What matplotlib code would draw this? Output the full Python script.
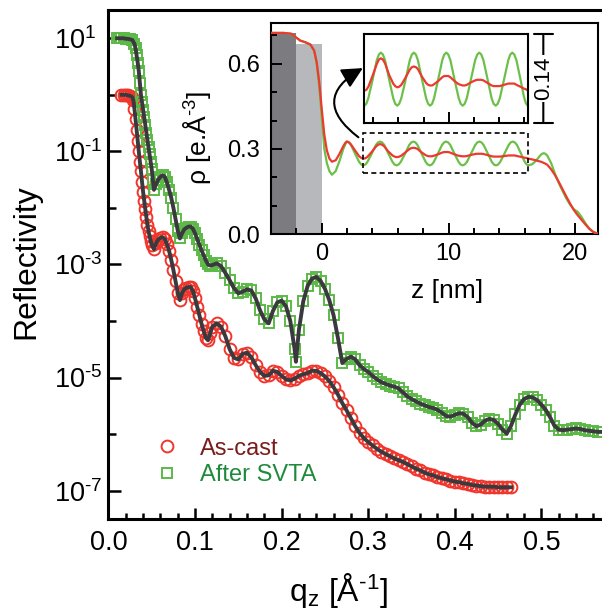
import numpy as np
import matplotlib
matplotlib.use("Agg")
import matplotlib.pyplot as plt
from matplotlib.patches import Rectangle
from matplotlib.ticker import FixedLocator, FuncFormatter, NullFormatter

plt.rcParams["font.family"] = ["Liberation Sans", "DejaVu Sans"]
plt.rcParams["mathtext.fontset"] = "custom"
plt.rcParams["mathtext.rm"] = "Liberation Sans"
plt.rcParams["mathtext.it"] = "Liberation Sans:italic"
plt.rcParams["mathtext.bf"] = "Liberation Sans:bold"

# --- reflectivity data, log10(R) ---
q_ascast = [
    0.0150, 0.0175, 0.0200, 0.0225, 0.0250, 0.0275, 0.02875, 0.0300, 0.03125, 0.0325,
    0.03375, 0.0350, 0.03625, 0.0375, 0.03875, 0.0400, 0.04125, 0.0425, 0.04375, 0.0450,
    0.04625, 0.0475, 0.04875, 0.0500, 0.0525, 0.0550, 0.0575, 0.0600, 0.0625,
    0.0650, 0.0675, 0.0700, 0.0725, 0.0750, 0.0775, 0.0800, 0.0825, 0.0850, 0.0875,
    0.0900, 0.0925, 0.0950, 0.0975, 0.1000, 0.1025, 0.1050, 0.1075, 0.1100, 0.1125,
    0.1150, 0.1175,
    0.120, 0.125, 0.130, 0.135, 0.140, 0.145, 0.150, 0.155, 0.160, 0.165,
    0.170, 0.175, 0.180, 0.185, 0.190, 0.195, 0.200, 0.205, 0.210, 0.215,
    0.220, 0.225, 0.230, 0.235, 0.240, 0.245, 0.250, 0.255, 0.260, 0.265,
    0.270, 0.275, 0.280, 0.285, 0.290, 0.295, 0.300, 0.305, 0.310, 0.315,
    0.320, 0.325, 0.330, 0.335, 0.340, 0.345, 0.350, 0.355, 0.360, 0.365,
    0.370, 0.375, 0.380, 0.385, 0.390, 0.395, 0.400, 0.405, 0.410, 0.415,
    0.420, 0.425, 0.430, 0.435, 0.440, 0.445, 0.450, 0.455, 0.460, 0.465,
]
logr_ascast = [
    0.00, 0.00, 0.00, -0.01, -0.02, -0.04, -0.10, -0.25, -0.43, -0.62,
    -0.81, -1.00, -1.18, -1.35, -1.54, -1.72, -1.87, -2.02, -2.16, -2.30,
    -2.41, -2.50, -2.58, -2.65, -2.73, -2.62, -2.56, -2.53, -2.52,
    -2.55, -2.64, -2.76, -2.92, -3.10, -3.30, -3.50, -3.63, -3.50, -3.44,
    -3.41, -3.40, -3.40, -3.47, -3.60, -3.75, -3.90, -4.05, -4.18, -4.30,
    -4.34, -4.22,
    -4.10, -4.04, -4.10, -4.27, -4.50, -4.65, -4.68, -4.58, -4.56, -4.64,
    -4.78, -4.90, -4.97, -4.96, -4.88, -4.90, -4.97, -5.03, -5.05, -5.02,
    -4.97, -4.94, -4.92, -4.88, -4.88, -4.92, -4.98, -5.06, -5.17, -5.30,
    -5.45, -5.58, -5.72, -5.86, -5.98, -6.07, -6.14, -6.20, -6.26, -6.31,
    -6.35, -6.39, -6.43, -6.46, -6.49, -6.53, -6.57, -6.61, -6.64, -6.68,
    -6.71, -6.73, -6.76, -6.78, -6.80, -6.82, -6.84, -6.85, -6.87, -6.88,
    -6.90, -6.91, -6.92, -6.93, -6.93, -6.93, -6.94, -6.94, -6.94, -6.94,
]

q_svta = [
    0.0100, 0.0125, 0.0150, 0.0175, 0.0200, 0.0225, 0.0250, 0.0275, 0.0300, 0.03125,
    0.0325, 0.03375, 0.0350, 0.03625, 0.0375, 0.03875, 0.0400, 0.04125, 0.0425, 0.04375,
    0.0450, 0.04625, 0.0475, 0.04875, 0.0500, 0.05125, 0.0525, 0.0550, 0.0575,
    0.0600, 0.0625, 0.0650, 0.0675, 0.0700, 0.0725, 0.0750, 0.0775, 0.0800, 0.0825,
    0.0850, 0.0875, 0.0900, 0.0925, 0.0950, 0.0975, 0.1000, 0.1025, 0.1050, 0.1075,
    0.1100, 0.1125, 0.1150, 0.1175,
    0.120, 0.125, 0.130, 0.135, 0.140, 0.145, 0.150, 0.155, 0.160, 0.165,
    0.170, 0.175, 0.180, 0.185, 0.190, 0.195, 0.200, 0.205, 0.210, 0.215,
    0.2165, 0.220, 0.225, 0.230, 0.235, 0.240, 0.245, 0.250, 0.255, 0.260,
    0.265, 0.270, 0.275, 0.280, 0.285, 0.290, 0.295, 0.300, 0.305, 0.310,
    0.315, 0.320, 0.325, 0.330, 0.335, 0.340, 0.345, 0.350, 0.355, 0.360,
    0.365, 0.370, 0.375, 0.380, 0.385, 0.390, 0.395, 0.400, 0.405, 0.410,
    0.415, 0.420, 0.425, 0.430, 0.435, 0.440, 0.445, 0.450, 0.455, 0.460,
    0.465, 0.470, 0.475, 0.480, 0.485, 0.490, 0.495, 0.500, 0.505, 0.510,
    0.515, 0.520, 0.525, 0.530, 0.535, 0.540, 0.545, 0.550, 0.555, 0.560,
    0.565, 0.570,
]
logr_svta = [
    1.00, 1.00, 1.00, 1.00, 0.99, 0.99, 0.98, 0.97, 0.90, 0.82,
    0.70, 0.57, 0.42, 0.21, 0.00, -0.13, -0.26, -0.40, -0.53, -0.67,
    -0.80, -0.93, -1.05, -1.18, -1.32, -1.50, -1.68, -1.58, -1.50,
    -1.45, -1.42, -1.45, -1.55, -1.68, -1.82, -2.00, -2.20, -2.40, -2.54,
    -2.45, -2.38, -2.35, -2.33, -2.33, -2.37, -2.45, -2.55, -2.65, -2.75,
    -2.84, -2.93, -3.00, -3.02,
    -3.01, -2.98, -3.03, -3.15, -3.28, -3.42, -3.51, -3.48, -3.44, -3.46,
    -3.60, -3.81, -3.97, -4.04, -3.82, -3.67, -3.64, -3.74, -4.00, -4.50,
    -4.72, -4.15, -3.65, -3.38, -3.25, -3.22, -3.29, -3.43, -3.63, -3.90,
    -4.30, -4.74, -4.67, -4.63, -4.68, -4.78, -4.85, -4.90, -4.97, -5.03,
    -5.08, -5.11, -5.14, -5.16, -5.19, -5.26, -5.33, -5.38, -5.42, -5.46,
    -5.49, -5.52, -5.54, -5.57, -5.62, -5.68, -5.69, -5.66, -5.63, -5.64,
    -5.70, -5.80, -5.86, -5.83, -5.76, -5.73, -5.75, -5.82, -5.92, -5.99,
    -5.85, -5.65, -5.48, -5.38, -5.34, -5.35, -5.40, -5.48, -5.57, -5.70,
    -5.85, -5.92, -5.93, -5.92, -5.91, -5.90, -5.91, -5.93, -5.94, -5.95,
    -5.96, -5.96,
]

# --- electron density profiles (inset) ---
z_nm = [
    -4.0, -3.0, -2.4, -2.0, -1.7, -1.3, -0.9, -0.6, -0.4, -0.2,
    0.0, 0.2, 0.4, 0.6, 0.8, 1.1, 1.4, 1.7, 1.85,
    1.97, 2.13, 2.3, 2.62, 2.95, 3.12,
    3.28, 3.44, 3.6, 3.95, 4.27, 4.44,
    4.6, 4.76, 4.93, 5.25, 5.58, 5.74,
    5.9, 6.06, 6.23, 6.58, 6.9, 7.07,
    7.23, 7.39, 7.55, 7.87, 8.2, 8.36,
    8.52, 8.68, 8.84, 9.17, 9.49, 9.65,
    9.81, 9.97, 10.14, 10.46, 10.8, 10.96,
    11.12, 11.28, 11.45, 11.78, 12.11, 12.28,
    12.44, 12.6, 12.77, 13.1, 13.42, 13.58,
    13.75, 13.91, 14.08, 14.42, 14.75, 14.91,
    15.07, 15.23, 15.4, 15.72, 16.0, 16.15,
    16.3, 16.6, 16.9, 17.2, 17.35, 17.5, 17.65, 17.8, 18.1, 18.4,
    18.7, 19.0, 19.3, 19.6, 19.9, 20.2, 20.5, 20.8, 21.1, 21.4,
    21.8,
]
rho_ascast = [
    0.709, 0.709, 0.706, 0.692, 0.682, 0.676, 0.668, 0.647, 0.605, 0.535,
    0.440, 0.350, 0.295, 0.266, 0.255, 0.260, 0.283, 0.310, 0.321,
    0.326, 0.324, 0.316, 0.295, 0.274, 0.268,
    0.266, 0.267, 0.272, 0.290, 0.308, 0.315,
    0.317, 0.315, 0.309, 0.291, 0.277, 0.273,
    0.271, 0.272, 0.275, 0.287, 0.299, 0.303,
    0.304, 0.303, 0.300, 0.288, 0.278, 0.275,
    0.274, 0.274, 0.276, 0.281, 0.287, 0.289,
    0.289, 0.289, 0.287, 0.281, 0.276, 0.275,
    0.274, 0.274, 0.275, 0.279, 0.282, 0.283,
    0.283, 0.283, 0.282, 0.278, 0.274, 0.273,
    0.273, 0.273, 0.273, 0.275, 0.277, 0.277,
    0.277, 0.277, 0.275, 0.272, 0.269, 0.268,
    0.266, 0.263, 0.260, 0.256, 0.254, 0.251, 0.248, 0.244, 0.228, 0.208,
    0.184, 0.158, 0.132, 0.107, 0.084, 0.066, 0.050, 0.034, 0.019, 0.008,
    0.000,
]
rho_svta = [
    0.709, 0.709, 0.706, 0.692, 0.682, 0.676, 0.668, 0.645, 0.600, 0.520,
    0.410, 0.300, 0.250, 0.222, 0.209, 0.222, 0.258, 0.300, 0.316,
    0.326, 0.323, 0.314, 0.284, 0.254, 0.245,
    0.242, 0.245, 0.254, 0.284, 0.314, 0.323,
    0.326, 0.323, 0.314, 0.284, 0.254, 0.245,
    0.242, 0.245, 0.254, 0.284, 0.314, 0.323,
    0.326, 0.323, 0.314, 0.284, 0.254, 0.245,
    0.242, 0.245, 0.254, 0.284, 0.314, 0.323,
    0.326, 0.323, 0.314, 0.284, 0.254, 0.245,
    0.242, 0.245, 0.254, 0.284, 0.314, 0.323,
    0.326, 0.323, 0.314, 0.284, 0.254, 0.245,
    0.242, 0.245, 0.254, 0.284, 0.314, 0.323,
    0.326, 0.323, 0.314, 0.284, 0.256, 0.246,
    0.242, 0.246, 0.258, 0.275, 0.282, 0.285, 0.283, 0.276, 0.250, 0.213,
    0.180, 0.152, 0.125, 0.103, 0.087, 0.078, 0.060, 0.038, 0.020, 0.008,
    0.000,
]

# substrate layers (Si / SiOx) drawn as shaded blocks
layer_edges = [-4.1, -2.05, 0.0]
layer_rho = [0.709, 0.670]

# region that is magnified in the small panel
zoom_z = (3.28, 16.3)
zoom_rho = (0.215, 0.355)

RED = "#f0362c"
GREEN = "#5cb947"
FIT = "#3a3a3e"
HYPHEN = "\u2010"

fig = plt.figure(figsize=(6.02, 6.12), dpi=100)

# --- main reflectivity panel ---
ax = fig.add_axes([0.1802, 0.152, 0.8198, 0.8317])
h_red, = ax.plot(q_ascast, 10 ** np.array(logr_ascast), ls="none", marker="o",
                 ms=8.5, mfc="none", mec=RED, mew=1.4, label="As-cast", zorder=2)
h_green, = ax.plot(q_svta, 10 ** np.array(logr_svta), ls="none", marker="s",
                   ms=7.4, mfc="none", mec=GREEN, mew=1.4, label="After SVTA", zorder=2)
ax.plot(q_ascast, 10 ** np.array(logr_ascast), color=FIT, lw=2.8, zorder=3)
ax.plot(q_svta, 10 ** np.array(logr_svta), color=FIT, lw=2.8, zorder=3)


def decade_label(v, pos):
    exp = int(round(np.log10(v)))
    sign = HYPHEN if exp < 0 else ""
    return r"10$^{\mathregular{%s%d}}$" % (sign, abs(exp))


ax.set_yscale("log")
ax.set_xlim(0, 0.57)
ax.set_ylim(10 ** -7.5, 10 ** 1.5)
ax.yaxis.set_major_locator(FixedLocator([1e1, 1e-1, 1e-3, 1e-5, 1e-7]))
ax.yaxis.set_minor_locator(FixedLocator([1e0, 1e-2, 1e-4, 1e-6]))
ax.yaxis.set_minor_formatter(NullFormatter())
ax.yaxis.set_major_formatter(FuncFormatter(decade_label))
ax.xaxis.set_major_locator(FixedLocator([0.0, 0.1, 0.2, 0.3, 0.4, 0.5]))
ax.xaxis.set_minor_locator(FixedLocator(np.arange(0.02, 0.57, 0.02)))
ax.xaxis.set_major_formatter(FuncFormatter(lambda v, p: "%.1f" % v))

ax.tick_params(which="both", direction="in", width=1.8, top=False, right=False)
ax.tick_params(axis="y", which="major", length=9, pad=39, labelsize=19.5)
ax.tick_params(axis="y", which="minor", length=6)
ax.tick_params(axis="x", which="major", length=8, pad=8, labelsize=19.5)
ax.tick_params(axis="x", which="minor", length=4.5)
plt.setp(ax.get_yticklabels(), ha="left")
for side in ["left", "bottom", "top"]:
    ax.spines[side].set_linewidth(2.2)
ax.spines["right"].set_visible(False)

ax.set_ylabel("Reflectivity", fontsize=23)
ax.yaxis.set_label_coords(-0.135, 0.505)
ax.set_xlabel(r"q$_{\mathregular{z}}$ [Å$^{\mathregular{%s1}}$]" % HYPHEN, fontsize=23)
ax.xaxis.set_label_coords(0.467, -0.103)

leg = ax.legend(handles=[h_red, h_green], loc="upper left", bbox_to_anchor=(0.094, 0.16),
                frameon=False, fontsize=17, handlelength=1.0, handletextpad=0.9,
                labelspacing=0.2, borderpad=0, borderaxespad=0)
for text, color in zip(leg.get_texts(), ["#7a1c1c", "#1f8a3c"]):
    text.set_color(color)

# --- inset: electron density profile ---
axi = fig.add_axes([0.4497, 0.6176, 0.5437, 0.3453])
axi.bar(layer_edges[:-1], layer_rho, width=np.diff(layer_edges), align="edge",
        color=["#7b7b80", "#b7b8bc"], zorder=1)
axi.plot(z_nm, rho_svta, color="#6cc04a", lw=1.6, zorder=3)
axi.plot(z_nm, rho_ascast, color="#ec3a2e", lw=1.6, zorder=3)
axi.add_patch(Rectangle((zoom_z[0], zoom_rho[0]), zoom_z[1] - zoom_z[0],
                        zoom_rho[1] - zoom_rho[0], fill=False, ec="k", lw=1.2,
                        ls=(0, (3, 2)), zorder=4))
axi.annotate("", xy=(3.24, 0.585), xytext=(2.89, 0.341),
             arrowprops=dict(arrowstyle="-|>,head_length=0.7,head_width=0.35",
                             connectionstyle="arc3,rad=-0.75", color="k", lw=1.5,
                             shrinkA=0, shrinkB=0, mutation_scale=18))
axi.set_xlim(-4.03, 21.8)
axi.set_ylim(0, 0.745)
axi.xaxis.set_major_locator(FixedLocator([0, 10, 20]))
axi.xaxis.set_minor_locator(FixedLocator([-2, 2, 4, 6, 8, 12, 14, 16, 18]))
axi.yaxis.set_major_locator(FixedLocator([0.0, 0.3, 0.6]))
axi.yaxis.set_minor_locator(FixedLocator([0.1, 0.2, 0.4, 0.5, 0.7]))
axi.yaxis.set_major_formatter(FuncFormatter(lambda v, p: "%.1f" % v))
axi.tick_params(which="both", direction="in", width=1.4, labelsize=17)
axi.tick_params(which="major", length=8)
axi.tick_params(which="minor", length=4.5)
axi.tick_params(axis="y", pad=8)
axi.tick_params(axis="x", pad=6.5)
for sp in axi.spines.values():
    sp.set_linewidth(1.5)
axi.set_xlabel("z [nm]", fontsize=19)
axi.xaxis.set_label_coords(0.540, -0.215)
axi.set_ylabel(r"ρ [e.Å$^{\mathregular{%s3}}$]" % HYPHEN, fontsize=19)
axi.yaxis.set_label_coords(-0.176, 0.457)

# --- magnified view of the periodic region ---
axz = fig.add_axes([0.6052, 0.7995, 0.2714, 0.1444])
axz.plot(z_nm, rho_svta, color="#6cc04a", lw=1.6)
axz.plot(z_nm, rho_ascast, color="#ec3a2e", lw=1.6)
axz.set_xlim(*zoom_z)
axz.set_ylim(*zoom_rho)
axz.set_yticks([])
axz.xaxis.set_major_locator(FixedLocator([10]))
axz.xaxis.set_minor_locator(FixedLocator([4, 6, 8, 12, 14, 16]))
axz.tick_params(axis="x", which="both", direction="in", width=1.4, labelbottom=False)
axz.tick_params(axis="x", which="major", length=8)
axz.tick_params(axis="x", which="minor", length=4.5)
for sp in axz.spines.values():
    sp.set_linewidth(1.5)

# scale bar showing the magnified density range
axz.annotate("", xy=(1.0955, 1.0), xytext=(1.0955, 0.0), xycoords="axes fraction",
             arrowprops=dict(arrowstyle="|-|,widthA=0.5,widthB=0.5", color="k", lw=1.5,
                             shrinkA=0, shrinkB=0, mutation_scale=14))
axz.text(1.0955, 0.5, "%.2f" % (zoom_rho[1] - zoom_rho[0]), transform=axz.transAxes,
         rotation=90, ha="center", va="center", fontsize=16, zorder=5,
         bbox=dict(fc="white", ec="none", pad=1))

fig.savefig("out.png", dpi=100)
